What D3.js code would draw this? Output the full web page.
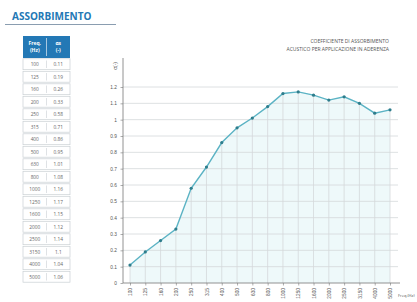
<!DOCTYPE html>
<html>
  <head>
    <meta charset="utf-8">
    <script src="https://d3js.org/d3.v7.min.js"></script>
  </head>
  <style type="text/css">
    body { margin: 0; background: #fff; }
    svg { font-family: "Open Sans", "DejaVu Sans", sans-serif; }
    .grid line { stroke: #d4d8da; stroke-width: 0.8; }
    .drop { stroke: #d4d8da; stroke-width: 0.8; }
  </style>
  <body>
    <div id="chart"></div>
  </body>
  <script type="text/javascript">
    // data
    var freqs = ["100", "125", "160", "200", "250", "315", "400", "500", "630",
                 "800", "1000", "1250", "1600", "2000", "2500", "3150", "4000", "5000"];
    var alpha = [0.11, 0.19, 0.26, 0.33, 0.58, 0.71, 0.86, 0.95, 1.01,
                 1.08, 1.16, 1.17, 1.15, 1.12, 1.14, 1.10, 1.04, 1.06];
    var tableAlpha = ["0.11", "0.19", "0.26", "0.33", "0.58", "0.71", "0.86", "0.95", "1.01",
                      "1.08", "1.16", "1.17", "1.15", "1.12", "1.14", "1.1", "1.04", "1.06"];
    var yTicks = [0, 0.1, 0.2, 0.3, 0.4, 0.5, 0.6, 0.7, 0.8, 0.9, 1, 1.1, 1.2];
    var chartTitle = ["COEFFICIENTE DI ASSORBIMENTO", "ACUSTICO PER APPLICAZIONE IN ADERENZA"];

    var blue = "#2378b5";
    var lineColor = "#5bb3c4";
    var dotColor = "#2e7d8c";

    var svg = d3.select("#chart").append("svg")
      .attr("width", 417)
      .attr("height", 302);

    /* Title */
    svg.append("text")
      .attr("x", 12).attr("y", 20)
      .attr("fill", blue)
      .style("font-size", "10px")
      .style("font-weight", "bold")
      .text("ASSORBIMENTO");
    svg.append("line")
      .attr("x1", 5).attr("x2", 116)
      .attr("y1", 24.5).attr("y2", 24.5)
      .attr("stroke", "#8a9db0").attr("stroke-width", 1.2);

    /* Table */
    var tx = 23, tw = 47, colX = 46.5, headTop = 36, headH = 22, rowH = 12.5;
    var table = svg.append("g");
    table.append("rect")
      .attr("x", tx).attr("y", headTop)
      .attr("width", tw).attr("height", headH)
      .attr("fill", blue);
    table.append("line")
      .attr("x1", colX).attr("x2", colX)
      .attr("y1", headTop + 2).attr("y2", headTop + headH - 2)
      .attr("stroke", "#fff").attr("stroke-width", 0.6);
    [["Freq.", "(Hz)", (tx + colX) / 2], ["\u03b1s", "(-)", (colX + tx + tw) / 2]].forEach(function(h) {
      table.append("text").attr("x", h[2]).attr("y", headTop + 9)
        .attr("text-anchor", "middle").attr("fill", "#fff")
        .style("font-size", "5px").style("font-weight", "bold").text(h[0]);
      table.append("text").attr("x", h[2]).attr("y", headTop + 16)
        .attr("text-anchor", "middle").attr("fill", "#fff")
        .style("font-size", "5px").style("font-weight", "bold").text(h[1]);
    });

    var rows = table.selectAll(".row")
      .data(freqs).enter()
      .append("g")
      .attr("class", "row")
      .attr("transform", (d, i) => `translate(0, ${headTop + headH + i * rowH})`);
    rows.append("rect")
      .attr("x", tx).attr("y", 0.8)
      .attr("width", tw).attr("height", rowH - 1.6)
      .attr("fill", "#fff")
      .attr("stroke", "#c9cfd3").attr("stroke-width", 0.7);
    rows.append("line")
      .attr("x1", colX).attr("x2", colX)
      .attr("y1", 2.5).attr("y2", rowH - 2.5)
      .attr("stroke", "#c9cfd3").attr("stroke-width", 0.6);
    rows.append("text")
      .attr("x", (tx + colX) / 2).attr("y", rowH / 2 + 1.8)
      .attr("text-anchor", "middle").attr("fill", "#666")
      .style("font-size", "4.8px")
      .text(d => d);
    rows.append("text")
      .attr("x", (colX + tx + tw) / 2).attr("y", rowH / 2 + 1.8)
      .attr("text-anchor", "middle").attr("fill", "#666")
      .style("font-size", "4.8px")
      .text((d, i) => tableAlpha[i]);

    /* Scales */
    var xScale = d3.scalePoint().domain(freqs).range([130, 390]);
    var yScale = d3.scaleLinear().domain([0, 1.2]).range([283, 87]);
    var x0 = 123, x1 = 398;

    /* Chart title */
    chartTitle.forEach(function(t, i) {
      svg.append("text")
        .attr("x", 389).attr("y", 43 + i * 8)
        .attr("text-anchor", "end")
        .attr("fill", "#555")
        .style("font-size", "5px")
        .text(t);
    });

    /* Area under the curve */
    var pts = freqs.map((f, i) => ({f: f, v: alpha[i]}));
    svg.append("path")
      .datum(pts)
      .attr("fill", "#eef9fa")
      .attr("d", d3.area().x(d => xScale(d.f)).y0(yScale(0)).y1(d => yScale(d.v)));

    /* Horizontal grid */
    svg.append("g").attr("class", "grid")
      .selectAll("line")
      .data(yTicks.slice(1)).enter()
      .append("line")
      .attr("x1", x0).attr("x2", x1)
      .attr("y1", d => yScale(d)).attr("y2", d => yScale(d));

    /* Drop lines */
    svg.append("g")
      .selectAll("line")
      .data(pts).enter()
      .append("line")
      .attr("class", "drop")
      .attr("x1", d => xScale(d.f)).attr("x2", d => xScale(d.f))
      .attr("y1", d => yScale(d.v)).attr("y2", yScale(0));

    /* Y axis */
    var yAxis = d3.axisLeft(yScale).tickValues(yTicks).tickSize(2.5).tickFormat(d3.format("~g"));
    var yg = svg.append("g")
      .attr("transform", `translate(${x0}, 0)`)
      .call(yAxis);
    yg.select(".domain").remove();
    yg.selectAll(".tick line").attr("stroke", "#777").attr("stroke-width", 0.6);
    yg.selectAll(".tick text").attr("x", -6).attr("fill", "#555").style("font-size", "4.8px");
    svg.append("line")
      .attr("x1", x0).attr("x2", x0)
      .attr("y1", 58).attr("y2", yScale(0))
      .attr("stroke", "#777").attr("stroke-width", 0.8);
    svg.append("text")
      .attr("transform", `translate(117, 66) rotate(-90)`)
      .attr("text-anchor", "middle")
      .attr("fill", "#555")
      .style("font-size", "5px")
      .text("\u03b1(-)");

    /* X axis */
    var xAxis = d3.axisBottom(xScale).tickSize(2.5);
    var xg = svg.append("g")
      .attr("transform", `translate(0, ${yScale(0)})`)
      .call(xAxis);
    xg.select(".domain").remove();
    xg.selectAll(".tick line").attr("stroke", "#777").attr("stroke-width", 0.6);
    xg.selectAll(".tick text")
      .attr("fill", "#555")
      .style("font-size", "4.8px")
      .attr("transform", "rotate(-90)")
      .attr("text-anchor", "end")
      .attr("x", -5).attr("y", 0).attr("dy", "0.35em");
    svg.append("line")
      .attr("x1", x0).attr("x2", x1 + 2)
      .attr("y1", yScale(0)).attr("y2", yScale(0))
      .attr("stroke", "#777").attr("stroke-width", 0.8);
    svg.append("text")
      .attr("x", 398).attr("y", 297)
      .attr("fill", "#555")
      .style("font-size", "4px")
      .text("Freq.(Hz)");

    /* Line and dots */
    svg.append("path")
      .datum(pts)
      .attr("fill", "none")
      .attr("stroke", lineColor)
      .attr("stroke-width", 1.4)
      .attr("d", d3.line().x(d => xScale(d.f)).y(d => yScale(d.v)));

    svg.append("g")
      .selectAll("circle")
      .data(pts).enter()
      .append("circle")
      .attr("cx", d => xScale(d.f))
      .attr("cy", d => yScale(d.v))
      .attr("r", 1.6)
      .attr("fill", dotColor);
  </script>
</html>
